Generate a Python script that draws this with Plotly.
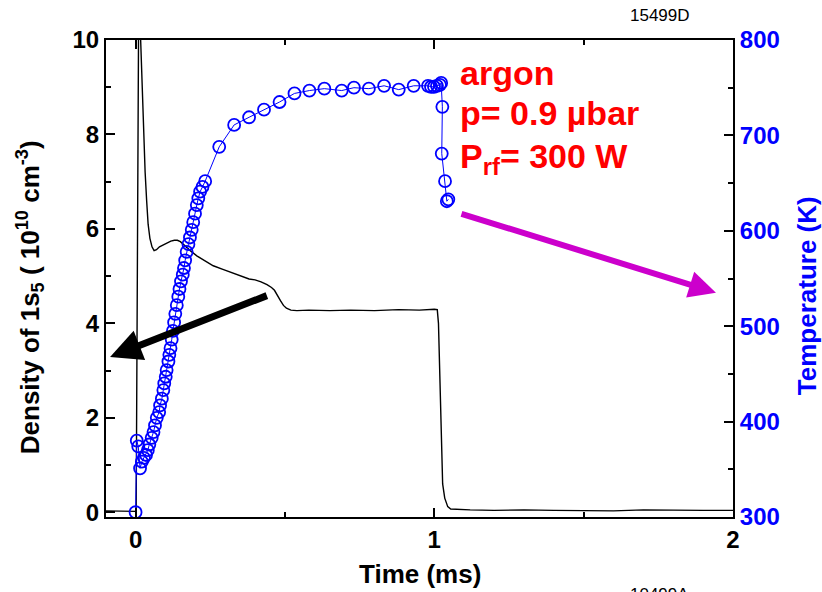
import plotly.graph_objects as go

# Density of Ar 1s5 metastables (10^10 cm^-3) versus time (ms)
dens_t = [-0.099, -0.06, -0.02, 0.0, 0.002, 0.009, 0.011, 0.017, 0.025, 0.032,
          0.037, 0.042, 0.048, 0.055, 0.062, 0.070, 0.080, 0.092, 0.105, 0.118,
          0.130, 0.140, 0.150, 0.165, 0.185, 0.205, 0.230, 0.260, 0.290, 0.320,
          0.350, 0.380, 0.400, 0.420, 0.440, 0.455, 0.465, 0.475, 0.485, 0.495,
          0.505, 0.520, 0.540, 0.580, 0.650, 0.720, 0.800, 0.880, 0.950, 1.000,
          1.010, 1.014, 1.018, 1.021, 1.024, 1.028, 1.035, 1.045, 1.055, 1.080,
          1.120, 1.200, 1.300, 1.400, 1.500, 1.600, 1.700, 1.800, 1.900, 2.000]
dens_v = [0.03, 0.03, 0.02, 0.02, 0.05, 10.0, 11.5, 10.0, 8.3, 7.2,
          6.6, 6.1, 5.8, 5.62, 5.54, 5.56, 5.62, 5.66, 5.70, 5.74,
          5.76, 5.76, 5.73, 5.64, 5.53, 5.43, 5.33, 5.22, 5.15, 5.08,
          5.01, 4.94, 4.92, 4.88, 4.82, 4.76, 4.70, 4.58, 4.48, 4.38,
          4.32, 4.28, 4.27, 4.28, 4.27, 4.28, 4.27, 4.29, 4.28, 4.30,
          4.29, 4.0, 3.0, 2.0, 1.0, 0.6, 0.3, 0.12, 0.07, 0.06,
          0.05, 0.04, 0.05, 0.04, 0.04, 0.03, 0.05, 0.04, 0.04, 0.04]

# Gas temperature (K) versus time (ms)
temp_t = [0.000, 0.004, 0.009, 0.015, 0.021, 0.028, 0.035, 0.041, 0.046, 0.054,
          0.060, 0.065, 0.071, 0.079, 0.082, 0.088, 0.093, 0.096, 0.101, 0.104,
          0.110, 0.113, 0.117, 0.121, 0.125, 0.129, 0.133, 0.138, 0.143, 0.147,
          0.152, 0.158, 0.162, 0.166, 0.171, 0.177, 0.182, 0.188, 0.193, 0.199,
          0.205, 0.210, 0.216, 0.224, 0.233,
          0.280, 0.330, 0.380, 0.430, 0.482, 0.532, 0.582, 0.632, 0.690, 0.731,
          0.781, 0.832, 0.881, 0.931, 0.979, 0.989, 0.999, 1.009, 1.019, 1.023,
          1.027, 1.025, 1.036, 1.042, 1.047]
temp_v = [305, 380, 374, 351, 358, 362, 365, 370, 376, 383,
          389, 396, 404, 410, 417, 424, 433, 440, 447, 454,
          463, 470, 477, 486, 495, 504, 513, 522, 531, 539,
          547, 554, 561, 569, 578, 586, 593, 601, 609, 618,
          627, 634, 641, 646, 652,
          688, 711, 719, 727, 735, 744, 747, 749, 747, 750,
          749, 752, 748, 752, 752, 751, 751, 752, 753, 755,
          730, 681, 652, 631, 633]

# Conditions text lines
cond_lines = ["argon", "p= 0.9 µbar", "P<sub>rf</sub>= 300 W"]
cond_y = [9.30, 8.45, 7.50]

FONT = "Liberation Sans, Arial, sans-serif"
BLUE = "#0000ff"
RED = "#ff0000"
MAGENTA = "#cc00cc"

fig = go.Figure()
fig.add_trace(go.Scatter(x=dens_t, y=dens_v, mode="lines",
                         line=dict(color="black", width=1.4), yaxis="y"))
fig.add_trace(go.Scatter(x=temp_t, y=temp_v, mode="lines+markers",
                         line=dict(color=BLUE, width=1),
                         marker=dict(symbol="circle-open", size=12,
                                     color=BLUE, line=dict(width=1.8, color=BLUE)),
                         yaxis="y2"))

axis_common = dict(showline=True, linewidth=2, linecolor="black", showgrid=False,
                   zeroline=False, ticks="inside", ticklen=9, tickwidth=2,
                   tickcolor="black")

fig.update_layout(
    width=822, height=592,
    margin=dict(l=106, r=89, t=40, b=75),
    plot_bgcolor="white", paper_bgcolor="white",
    showlegend=False,
    font=dict(family=FONT, color="black"),
    xaxis=dict(range=[-0.099, 2.0], tick0=0, dtick=1, mirror="ticks",
               tickfont=dict(size=24, family=FONT, weight="bold"),
               minor=dict(dtick=0.5, tick0=0, ticks="inside", ticklen=5,
                          tickwidth=2, tickcolor="black"),
               **axis_common),
    yaxis=dict(range=[-0.1, 10.0], tick0=0, dtick=2,
               tickfont=dict(size=24, family=FONT, weight="bold"),
               minor=dict(dtick=1, tick0=0, ticks="inside", ticklen=5,
                          tickwidth=2, tickcolor="black"),
               **axis_common),
    yaxis2=dict(range=[300, 800], tick0=300, dtick=100, overlaying="y",
                side="right",
                tickfont=dict(size=24, family=FONT, weight="bold", color=BLUE),
                minor=dict(dtick=50, tick0=300, ticks="inside", ticklen=5,
                           tickwidth=2, tickcolor="black"),
                **axis_common),
)

annotations = [
    dict(text="<b>Time (ms)</b>", xref="paper", yref="paper", x=0.5, y=-0.1195,
         xanchor="center", yanchor="middle", showarrow=False,
         font=dict(size=26, family=FONT, color="black")),
    dict(text="<b>Density of 1s<sub>5</sub> ( 10<sup>10</sup> cm<sup>-3</sup>)</b>",
         xref="paper", yref="paper", x=-0.121, y=0.461, textangle=-90,
         xanchor="center", yanchor="middle", showarrow=False,
         font=dict(size=26, family=FONT, color="black")),
    dict(text="<b>Temperature (K)</b>", xref="paper", yref="paper",
         x=1.118, y=0.465, textangle=-90, xanchor="center", yanchor="middle",
         showarrow=False, font=dict(size=26, family=FONT, color=BLUE)),
    dict(text="15499D", xref="paper", yref="paper", x=0.8836, y=1.0524,
         xanchor="center", yanchor="middle", showarrow=False,
         font=dict(size=17, family=FONT, color="black")),
    dict(text="10499A", xref="paper", yref="paper", x=0.882, y=-0.138,
         xanchor="center", yanchor="top", showarrow=False,
         font=dict(size=17, family=FONT, color="black")),
    # arrows pointing to the axis each curve belongs to
    dict(x=-0.0854, y=3.29, ax=0.4445, ay=4.60, xref="x", yref="y",
         axref="x", ayref="y", text="", showarrow=True, arrowhead=2,
         arrowsize=0.9, arrowwidth=7, arrowcolor="black"),
    dict(x=1.943, y=4.65, ax=1.086, ay=6.33, xref="x", yref="y",
         axref="x", ayref="y", text="", showarrow=True, arrowhead=2,
         arrowsize=0.9, arrowwidth=6, arrowcolor=MAGENTA),
]
for line, yv in zip(cond_lines, cond_y):
    annotations.append(dict(text="<b>" + line + "</b>", xref="x", yref="y",
                            x=1.0795, y=yv, xanchor="left", yanchor="middle",
                            showarrow=False,
                            font=dict(size=34, family=FONT, color=RED)))
fig.update_layout(annotations=annotations)

fig.write_html("out.html")
